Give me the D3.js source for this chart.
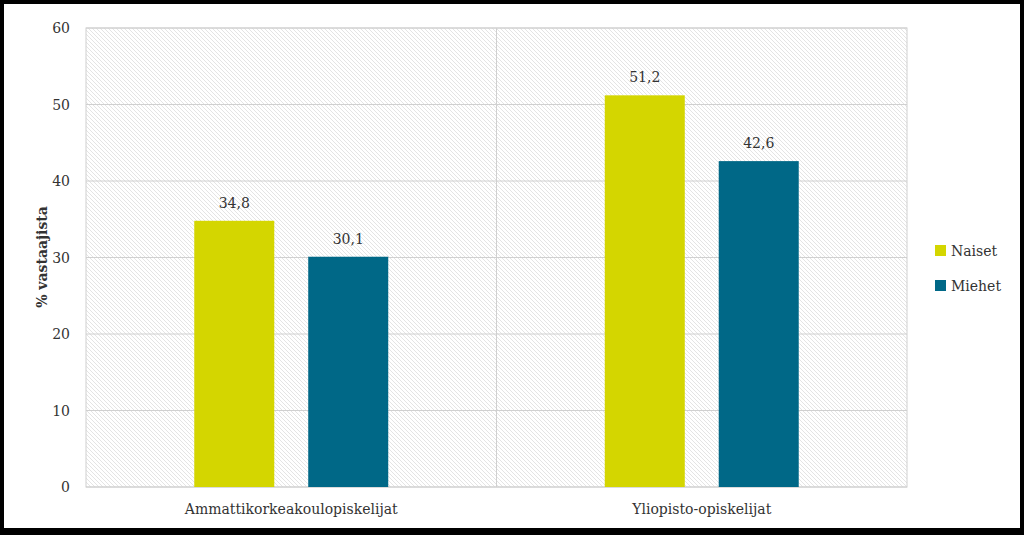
<!DOCTYPE html><html><head><meta charset="utf-8"><script src="https://cdn.jsdelivr.net/npm/d3@7"></script>
<style>body{margin:0;background:#000}svg{display:block}</style></head><body><svg id="c" width="1024" height="535"></svg>
<script>
const categories=["Ammattikorkeakoulopiskelijat","Yliopisto-opiskelijat"];
const seriesNames=["Naiset","Miehet"];
const naiset=[34.8,51.2];
const miehet=[30.1,42.6];
const yTicks=[0,10,20,30,40,50,60];
const colors=["#d4d600","#006887"];
const svg=d3.select("#c");
svg.append("rect").attr("x",4).attr("y",4).attr("width",1016).attr("height",524).attr("fill","#fff");
const defs=svg.append("defs");
const p=defs.append("pattern").attr("id","h").attr("patternUnits","userSpaceOnUse").attr("width",4).attr("height",4);
p.append("rect").attr("width",4).attr("height",4).attr("fill","#fff");
p.append("path").attr("d","M-1,-1 L5,5 M-1,3 L1,5 M3,-1 L5,1").attr("stroke","#d8d8d8").attr("stroke-width",0.7);
const L=86,R=907,T=28,B=487;
const x=d3.scaleBand().domain(categories).range([L,R]);
const y=d3.scaleLinear().domain([0,60]).range([B,T]);
svg.append("rect").attr("x",L).attr("y",T).attr("width",R-L).attr("height",B-T).attr("fill","url(#h)").attr("stroke","#d0d0d0");
const g=svg.append("g");
yTicks.forEach(t=>{g.append("line").attr("x1",L).attr("x2",R).attr("y1",y(t)).attr("y2",y(t)).attr("stroke","#d0d0d0");
svg.append("text").attr("x",70).attr("y",y(t)+5).attr("text-anchor","end").text(t);});
g.append("line").attr("x1",x(categories[1])).attr("x2",x(categories[1])).attr("y1",T).attr("y2",B).attr("stroke","#d0d0d0");
const sub=d3.scaleBand().domain(seriesNames).range([0,x.bandwidth()]).paddingInner(0.298).paddingOuter(0.95);
[naiset,miehet].forEach((vals,si)=>{vals.forEach((v,ci)=>{
 const bx=x(categories[ci])+sub(seriesNames[si]);
 svg.append("rect").attr("x",bx).attr("y",y(v)).attr("width",sub.bandwidth()).attr("height",B-y(v)).attr("fill",colors[si]);
 svg.append("text").attr("x",bx+sub.bandwidth()/2).attr("y",y(v)-13).attr("text-anchor","middle").text(String(v).replace(".",","));
});});
categories.forEach(c=>svg.append("text").attr("x",x(c)+x.bandwidth()/2).attr("y",514).attr("text-anchor","middle").text(c));
svg.append("text").attr("transform","translate(47,257) rotate(-90)").attr("text-anchor","middle").attr("font-weight","bold").text("% vastaajista");
seriesNames.forEach((s,i)=>{svg.append("rect").attr("x",935).attr("y",245+i*35).attr("width",11).attr("height",11).attr("fill",colors[i]);
svg.append("text").attr("x",951).attr("y",256+i*35).text(s);});
svg.selectAll("text").attr("font-family","DejaVu Serif, serif").attr("font-size",14).attr("fill","#333");
</script></body></html>
